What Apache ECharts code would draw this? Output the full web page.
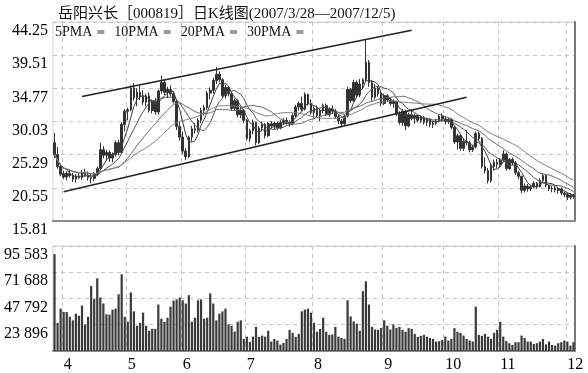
<!DOCTYPE html>
<html><head><meta charset="utf-8">
<script src="https://cdn.jsdelivr.net/npm/echarts@6/dist/echarts.min.js"></script>
<style>html,body{margin:0;padding:0;background:#fff}#c{width:588px;height:373px}</style>
</head><body><div id="c"></div>
<script>
const titleText = '岳阳兴长［000819］日K线图(2007/3/28—2007/12/5)';
const maNames = ['5PMA','10PMA','20PMA','30PMA'];
const maPeriods = [5,10,20,30];
const priceTicks = {min:15.81, max:44.25, step:4.74};
const volTickLabels = ['', '23 896', '47 792', '71 688', '95 583'];
const tradingDays = [
 ['2007-03',[28,29,30]],
 ['2007-04',[2,3,4,5,6,9,10,11,12,13,16,17,18,19,20,23,24,25,26,27,30]],
 ['2007-05',[8,9,10,11,14,15,16,17,18,21,22,23,24,25,28,29,30,31]],
 ['2007-06',[1,4,5,6,7,8,11,12,13,14,15,18,19,20,21,22,25,26,27,28,29]],
 ['2007-07',[2,3,4,5,6,9,10,11,12,13,16,17,18,19,20,23,24,25,26,27,30,31]],
 ['2007-08',[1,2,3,6,7,8,9,10,13,14,15,16,17,20,21,22,23,24,27,28,29,30,31]],
 ['2007-09',[3,4,5,6,7,10,11,12,13,14,17,18,19,20,21,24,25,26,27,28]],
 ['2007-10',[8,9,10,11,12,15,16,17,18,19,22,23,24,25,26,29,30,31]],
 ['2007-11',[1,2,5,6,7,8,9,12,13,14,15,16,19,20,21,22,23,26,27,28,29,30]],
 ['2007-12',[3,4,5]]
];
// [open, close, low, high]
const kData = [
[27.0,25.3,24.8,28.4],[25.3,23.6,23.3,26.4],[23.6,22.5,22.2,24.0],
[22.6,22.1,21.8,23.0],[22.1,22.6,21.6,22.9],[22.6,22.3,22.0,23.2],[22.3,21.8,21.4,22.7],[21.8,22.2,21.3,22.5],
[22.2,22.0,21.8,22.8],[22.0,22.8,21.7,23.1],[22.8,22.4,22.1,23.3],[22.4,22.0,21.6,22.9],[22.0,21.9,21.2,22.6],
[21.9,22.5,21.5,22.8],[22.5,23.3,22.2,23.6],[23.3,26.0,23.0,27.0],[26.0,25.2,24.8,26.5],[25.2,25.6,24.5,26.0],
[25.6,24.8,24.3,25.9],[24.8,25.3,24.2,25.6],[25.3,27.0,25.0,27.3],[27.0,25.6,25.2,27.4],[25.6,29.6,25.4,29.9],
[29.6,31.5,28.6,31.8],
[31.5,31.7,30.2,32.0],[31.7,34.8,31.5,35.2],[34.8,33.4,33.0,35.5],[33.4,34.2,32.2,34.8],[34.2,33.6,33.1,35.1],
[33.6,32.8,32.4,34.5],[32.8,33.7,32.2,34.0],[33.7,31.6,31.3,34.2],[31.6,32.9,31.2,33.2],[32.9,31.4,31.0,33.4],
[31.4,34.4,31.0,34.6],[34.4,35.6,34.0,36.6],[35.6,34.2,33.8,36.0],[34.2,34.6,33.4,35.0],[34.6,34.0,33.6,35.2],
[34.0,32.9,32.6,34.4],[32.9,29.3,28.8,33.2],[29.3,27.8,27.3,30.0],
[27.8,25.8,25.4,28.6],[25.8,25.0,24.5,26.2],[25.0,27.8,24.8,28.0],[27.8,29.0,27.2,29.4],[29.0,28.8,28.3,29.8],
[28.8,30.2,28.5,30.5],[30.2,31.6,29.8,32.0],[31.6,32.0,30.9,32.4],[32.0,34.1,31.7,34.4],[34.1,34.5,33.2,34.9],
[34.5,35.9,34.0,36.3],[35.9,36.8,35.4,37.8],[36.8,36.0,35.6,37.2],[36.0,33.7,33.4,36.2],[33.7,34.9,33.3,35.3],
[34.9,34.0,33.6,35.1],[34.0,31.9,31.6,34.2],[31.9,33.0,31.5,33.3],[33.0,31.0,30.6,33.2],[31.0,31.6,30.5,32.1],
[31.6,30.2,29.8,31.8],
[30.2,27.6,27.3,30.4],[27.6,28.7,27.1,29.0],[28.7,29.9,28.2,30.3],[29.9,27.0,26.6,30.0],[27.0,29.1,26.8,29.4],
[29.1,29.6,28.6,30.0],[29.6,28.0,27.6,29.8],[28.0,29.7,27.8,30.0],[29.7,29.4,29.0,30.1],[29.4,29.8,28.9,30.0],
[29.8,29.1,28.8,30.0],[29.1,29.9,28.9,30.2],[29.9,30.2,29.5,30.5],[30.2,29.9,29.6,30.6],[29.9,29.7,29.3,30.2],
[29.7,30.9,29.5,31.2],[30.9,32.1,30.6,32.4],[32.1,32.6,31.6,32.9],[32.6,31.8,31.5,33.6],[31.8,33.9,31.6,34.2],
[33.9,32.6,32.3,34.0],[32.6,31.3,31.0,33.2],
[31.3,31.9,30.5,32.2],[31.9,30.9,30.6,32.3],[30.9,31.6,30.1,31.9],[31.6,32.3,31.2,32.6],[32.3,31.0,30.8,32.6],
[31.0,31.8,30.7,32.0],[31.8,31.5,31.1,32.3],[31.5,30.7,30.4,31.8],[30.7,30.1,29.7,31.0],[30.1,29.7,29.2,30.4],
[29.7,30.8,29.5,31.0],[30.8,34.6,30.6,35.0],[34.6,33.0,32.7,34.8],[33.0,35.6,32.8,36.0],[35.6,33.8,33.4,35.9],
[33.8,35.4,33.5,36.1],[35.4,36.0,34.6,36.2],[36.0,38.5,35.8,41.8],[38.5,35.6,35.0,38.8],[35.6,33.5,33.0,36.0],
[33.5,34.8,33.2,35.4],[34.8,34.0,33.6,35.0],[34.0,32.6,32.2,34.5],
[32.6,33.7,32.4,34.0],[33.7,33.1,32.8,33.9],[33.1,32.6,32.3,33.5],[32.6,32.9,32.0,33.2],[32.9,31.1,30.8,33.0],
[31.1,29.9,29.6,31.5],[29.9,31.5,29.4,31.8],[31.5,29.4,28.8,31.7],[29.4,31.0,29.2,31.3],[31.0,30.5,30.2,31.8],
[30.5,30.9,29.7,31.2],[30.9,30.2,29.9,31.0],[30.2,30.6,29.8,30.9],[30.6,29.9,29.6,30.8],[29.9,30.3,29.4,30.6],
[30.3,29.6,29.2,30.5],[29.6,29.8,29.1,30.1],[29.8,30.1,29.5,30.4],[30.1,30.8,29.9,31.0],[30.8,30.4,30.0,31.2],
[30.4,30.0,29.6,30.8],[30.0,30.3,29.7,30.6],[30.3,29.2,28.9,30.5],[29.2,27.1,26.8,29.4],[27.1,28.0,26.0,28.3],
[28.0,26.2,25.9,28.2],[26.2,27.2,25.8,27.6],[27.2,27.0,26.6,28.8],[27.0,26.0,25.6,27.3],[26.0,26.4,25.7,26.7],
[26.4,28.3,26.2,28.6],[28.3,27.6,27.2,28.6],[27.6,23.6,23.3,27.8],[23.6,23.0,22.6,24.9],[23.0,21.6,21.2,23.4],
[21.6,23.6,21.3,24.1],[23.6,24.2,23.0,24.6],[24.2,23.9,23.4,24.7],
[23.9,24.5,23.5,24.8],[24.5,25.4,24.2,25.9],[25.4,23.3,23.0,25.6],[23.3,24.6,23.1,24.8],[24.6,24.1,23.8,24.9],
[24.1,22.7,22.4,24.4],[22.7,22.2,21.8,23.0],[22.2,20.2,19.8,22.3],[20.2,20.8,19.9,21.2],[20.8,20.4,20.0,21.1],
[20.4,20.7,20.1,21.0],[20.7,21.2,20.5,21.5],[21.2,20.7,20.4,21.4],[20.7,21.6,20.6,21.9],[21.6,22.3,21.2,22.6],
[22.3,20.9,20.6,22.4],[20.9,20.4,20.1,21.0],[20.4,20.5,19.9,20.8],[20.5,20.2,19.9,20.9],[20.2,20.4,19.7,20.7],
[20.4,19.8,19.5,20.6],[19.8,19.6,19.2,20.0],
[19.6,19.2,18.8,19.9],[19.2,19.5,18.9,19.8],[19.5,19.3,19.0,19.7]
];
const volumes = [
88200,25700,38600,35500,35500,31200,27900,34000,32100,41400,
24200,31200,59100,47200,66200,48700,43200,33400,33100,37700,
38600,51700,69800,31200,26600,53300,36100,23000,25700,34900,
23000,18400,20200,20200,42300,29400,26600,30300,40400,45900,
46900,48700,46200,43200,50800,26600,30300,46200,46900,29400,
30300,52400,43200,27900,34000,36100,38600,24200,23000,17700,
26600,27900,11000,13100,8300,13100,22000,12900,14000,13100,
18400,8600,11000,9500,5800,7400,11000,19300,16500,12900,
15600,36100,37700,38600,34900,25700,17500,20000,30300,17500,
14700,15000,22000,13100,11900,11000,46200,31500,26900,24800,
18400,54500,63400,42300,22000,19600,19300,21000,27900,23000,
19600,24200,21100,22000,19300,17500,20800,20200,15600,12900,
13800,14700,13100,12000,11000,8600,8900,10100,13100,9500,
11000,20800,17500,16500,14000,11000,9500,8600,40400,14700,
13800,15600,13100,11000,16500,19300,26600,13100,9000,7100,
5500,8000,8000,14000,11900,8600,8600,6400,7100,8600,
11000,6000,8600,5500,4900,7100,8000,9500,8600,4900,
8000
];
// channel lines: [startIndex, startPrice, endIndex, endPrice]
const trendLines = [
 [9, 33.6, 117, 43.07],
 [3, 20.0, 135, 33.5]
];

const dates = [];
tradingDays.forEach(([m, days]) => days.forEach(d => dates.push(m + '-' + String(d).padStart(2,'0'))));
const closes = kData.map(r => r[1]);
function movingAvg(n){
  return closes.map((c,i)=>{const s=Math.max(0,i-n+1);let sum=0;for(let k=s;k<=i;k++)sum+=closes[k];return +(sum/(i-s+1)).toFixed(3);});
}
const isMonthStart = (idx) => idx > 0 && dates[idx].slice(0,7) !== dates[idx-1].slice(0,7);
const serif = 'Liberation Serif, Noto Sans CJK SC, serif';
const maColors = ['#3c3c3c','#555','#6a6a6a','#808080'];

const chart = echarts.init(document.getElementById('c'));
const baseX = (grid, labels) => ({
  type:'category', gridIndex:grid, data:dates, boundaryGap:true,
  axisLine:{show:true, lineStyle:{color:'#8a8a8a', width:2}},
  axisTick:{show:false},
  axisLabel:{show:labels, interval:(i)=>isMonthStart(i), formatter:(v)=>String(parseInt(v.slice(5,7),10)),
     align:'left', margin:6, color:'#000', fontFamily:serif, fontSize:16},
  splitLine:{show:true, interval:(i)=>isMonthStart(i), lineStyle:{color:'#c4c4c4', type:[4,4], width:1}}
});
chart.setOption({
  animation:false,
  backgroundColor:'#fff',
  title:{text:titleText, left:53, top:2, textStyle:{fontFamily:serif, fontSize:15, fontWeight:'normal', color:'#111'}},
  legend:{
    left:55, top:25, padding:0, align:'right', icon:'rect', itemWidth:7, itemHeight:4, itemGap:10,
    textStyle:{fontFamily:serif, fontSize:14, color:'#111'},
    data:maNames.map(n=>({name:n, itemStyle:{color:'#9a9a9a'}}))
  },
  grid:[
    {left:53, right:13, top:22, height:199, show:true, borderColor:'#cfcfcf', borderWidth:1},
    {left:53, right:13, top:246, height:106, show:true, borderColor:'#cfcfcf', borderWidth:1}
  ],
  xAxis:[baseX(0,false), baseX(1,true)],
  yAxis:[
    {type:'value', gridIndex:0, min:priceTicks.min, max:priceTicks.max, interval:priceTicks.step,
     axisLine:{show:false}, axisTick:{show:false},
     axisLabel:{formatter:(v)=>v.toFixed(2), color:'#000', fontFamily:serif, fontSize:16, margin:5, verticalAlign:'top', padding:[1,0,0,0]},
     splitLine:{lineStyle:{color:'#c4c4c4', type:[4,4]}}},
    {type:'value', gridIndex:1, min:0, max:95584, interval:23896,
     axisLine:{show:false}, axisTick:{show:false},
     axisLabel:{formatter:(v)=>volTickLabels[Math.round(v/23896)], color:'#000', fontFamily:serif, fontSize:16, margin:5, verticalAlign:'top', padding:[1,0,0,0]},
     splitLine:{lineStyle:{color:'#c4c4c4', type:[4,4]}}},
    {type:'value', gridIndex:0, position:'right', min:0, max:1, axisLine:{show:true, lineStyle:{color:'#777', width:2}}, axisLabel:{show:false}, axisTick:{show:false}, splitLine:{show:false}},
    {type:'value', gridIndex:1, position:'right', min:0, max:1, axisLine:{show:true, lineStyle:{color:'#777', width:2}}, axisLabel:{show:false}, axisTick:{show:false}, splitLine:{show:false}}
  ],
  series:[
    {type:'candlestick', name:'K', xAxisIndex:0, yAxisIndex:0, data:kData, barWidth:'70%',
     itemStyle:{color:'#333', color0:'#333', borderColor:'#333', borderColor0:'#333', borderWidth:1},
     markLine:{silent:true, symbol:['none','none'], label:{show:false},
       lineStyle:{color:'#222', width:1.6, type:'solid'},
       data:trendLines.map(t=>[{coord:[dates[t[0]], t[1]]},{coord:[dates[t[2]], t[3]]}])}
    },
    ...maNames.map((n,k)=>({type:'line', name:n, xAxisIndex:0, yAxisIndex:0, data:movingAvg(maPeriods[k]),
      symbol:'none', lineStyle:{color:maColors[k], width:1}, itemStyle:{color:maColors[k]}})),
    {type:'bar', name:'VOL', xAxisIndex:1, yAxisIndex:1, data:volumes, barCategoryGap:'28%', itemStyle:{color:'#3a3a3a'}}
  ]
});
</script></body></html>
